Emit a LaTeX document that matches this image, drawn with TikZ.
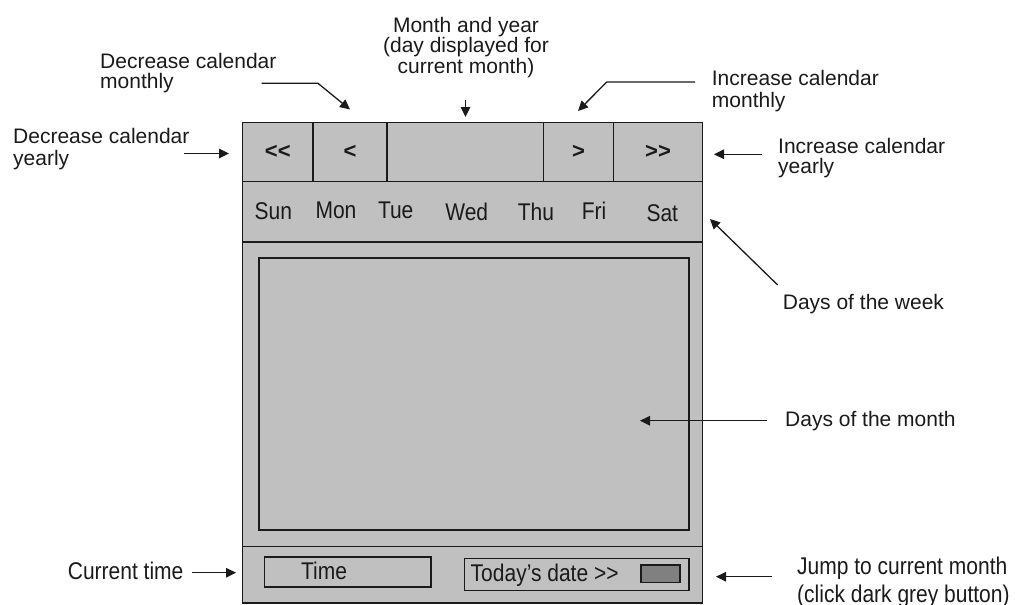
\documentclass[tikz,border=0pt]{standalone}
\usepackage{fontspec}
\setmainfont{Liberation Sans}
\usetikzlibrary{arrows.meta}
\definecolor{panel}{HTML}{C0C0C0}
\definecolor{btn}{HTML}{808080}
\definecolor{ink}{HTML}{1A1A1A}
\newcommand{\tallt}[1]{\scalebox{1}[1.15]{#1}}
\begin{document}
\begin{tikzpicture}[x=1pt,y=-1pt,
  box/.style={draw=ink, line width=1.6pt, fill=panel, inner sep=0pt, outer sep=0pt},
  darkbtn/.style={draw=ink, line width=1.6pt, fill=btn, inner sep=0pt},
  lbl/.style={inner sep=0pt, anchor=base west, align=left, text=ink},
  fnt/.style={font=\fontsize{21}{#1}\selectfont},
  day/.style={inner sep=0pt, anchor=base, text=ink, font=\fontsize{21}{22}\selectfont},
  navtxt/.style={font=\fontsize{22}{22}\selectfont\bfseries, text=ink},
  con/.style={draw=ink, line width=1.3pt, -{Triangle[length=10pt,width=9.5pt]}}]
\useasboundingbox (0,0) rectangle (1015,605);

% calendar frame
\node[box, minimum width=460pt, minimum height=480.5pt] (frame) at (472.5,362.75) {};
% header buttons
\node[box, navtxt, minimum width=70.5pt, minimum height=59pt] (yy) at (277.75,152) {{<}{<}};
\node[box, navtxt, minimum width=74pt, minimum height=59pt] (mm) at (350,152) {<};
\node[box, minimum width=156.5pt, minimum height=59pt] (ttl) at (465.25,152) {};
\node[box, navtxt, minimum width=70pt, minimum height=59pt] (mp) at (578.5,152) {>};
\node[box, navtxt, minimum width=89pt, minimum height=59pt] (yp) at (658,152) {{>}{>}};
% days row
\node[box, minimum width=460pt, minimum height=60.5pt] (days) at (472.5,211.75) {};
\node[day] (sun) at (273.3,219.5) {\tallt{Sun}};
\node[day] (mon) at (336,218.5) {\tallt{Mon}};
\node[day] (tue) at (395.7,218.5) {\tallt{Tue}};
\node[day] (wed) at (466.7,220) {\tallt{Wed}};
\node[day] (thu) at (536,220) {\tallt{Thu}};
\node[day] (fri) at (594,219) {\tallt{Fri}};
\node[day] (sat) at (662.3,221.5) {\tallt{Sat}};
% month area
\node[box, minimum width=460pt, minimum height=304.5pt] (marea) at (472.5,394.25) {};
\node[box, minimum width=430pt, minimum height=272pt] (grid) at (474,394) {};
% bottom panel
\node[box, minimum width=460pt, minimum height=56.5pt] (bottom) at (472.5,574.75) {};
\node[box, minimum width=166.5pt, minimum height=30pt] (timebox) at (347.75,572) {};
\node[lbl, anchor=base, fnt=22] (timetxt) at (324,579.3) {\tallt{Time}};
\node[box, minimum width=224.5pt, minimum height=32pt] (todaybox) at (576.75,574.5) {};
\node[lbl, fnt=22] (todaytxt) at (470.5,581.7) {\tallt{Today's date {>}{>}}};
\node[darkbtn, minimum width=39pt, minimum height=17.5pt] (dbtn) at (660.5,573.75) {};

% labels (base anchor = baseline of the last line)
\node[lbl, fnt=19.5] (ldm) at (100,88) {Decrease calendar\\monthly};
\node[lbl, anchor=base, align=center, fnt=20.5] (lmy) at (466,73) {Month and year\\(day displayed for\\current month)};
\node[lbl, fnt=22] (lim) at (711.7,107) {Increase calendar\\monthly};
\node[lbl, fnt=22] (ldy) at (13,165) {Decrease calendar\\yearly};
\node[lbl, fnt=20] (liy) at (778,173) {Increase calendar\\yearly};
\node[lbl, fnt=22] (ldw) at (782.7,309) {Days of the week};
\node[lbl, fnt=22] (ldmo) at (785,426.7) {Days of the month};
\node[lbl, fnt=22] (lct) at (67.7,579.3) {\tallt{Current time}};
\node[lbl, fnt=28] (ljc) at (797,602) {\tallt{Jump to current month}\\\tallt{(click dark grey button)}};

% connector end points
\coordinate (dm0) at (261.7,83.3);
\coordinate (dm1) at (318,83.3);
\coordinate (dmT) at (350,109.5);
\coordinate (my0) at (465.5,100);
\coordinate (myT) at (465.5,117);
\coordinate (im0) at (695,82);
\coordinate (im1) at (606.7,82);
\coordinate (imT) at (578,111);
\coordinate (dy0) at (184,153.5);
\coordinate (dyT) at (229,153.5);
\coordinate (iy0) at (761.7,154.3);
\coordinate (iyT) at (714,154.3);
\coordinate (dw0) at (777.7,285);
\coordinate (dwT) at (710,219);
\coordinate (dmo0) at (766.7,420.7);
\coordinate (dmoT) at (640,420.7);
\coordinate (ct0) at (192,572.7);
\coordinate (ctT) at (236,572.7);
\coordinate (jc0) at (771.7,576.7);
\coordinate (jcT) at (716,576.7);

\draw[con] (dm0) -- (dm1) -- (dmT);
\draw[con] (my0) -- (myT);
\draw[con] (im0) -- (im1) -- (imT);
\draw[con] (dy0) -- (dyT);
\draw[con] (iy0) -- (iyT);
\draw[con] (dw0) -- (dwT);
\draw[con] (dmo0) -- (dmoT);
\draw[con] (ct0) -- (ctT);
\draw[con] (jc0) -- (jcT);
\end{tikzpicture}
\end{document}
